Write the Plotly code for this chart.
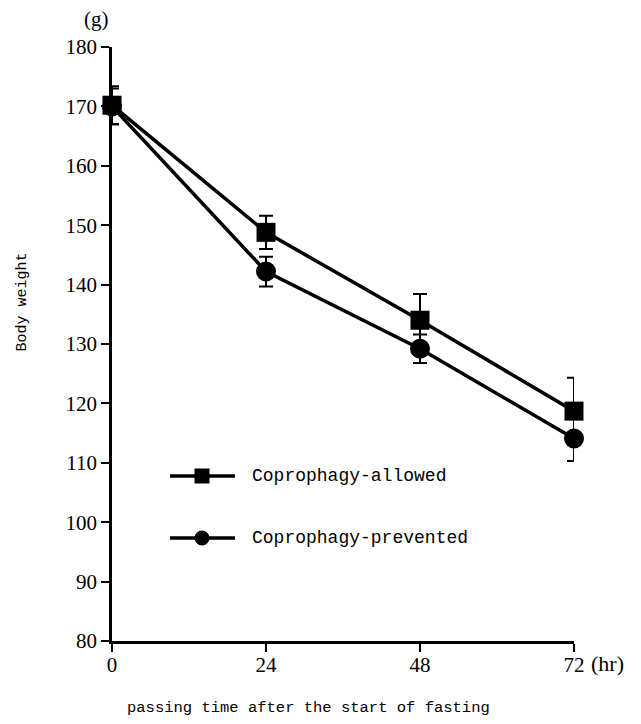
import plotly.graph_objects as go

hours = [0, 24, 48, 72]
allowed_mean = [170.2, 148.8, 134.0, 118.7]
allowed_err = [3.2, 2.8, 4.4, 5.6]
prevented_mean = [170.0, 142.2, 129.2, 114.1]
prevented_err = [3.0, 2.5, 2.4, 3.8]
x_ticks = [0, 24, 48, 72]
y_ticks = [80, 90, 100, 110, 120, 130, 140, 150, 160, 170, 180]

serif = "Liberation Serif"
mono = "Liberation Mono"

fig = go.Figure()
fig.add_trace(go.Scatter(
    x=hours, y=prevented_mean, mode="lines+markers", name="Coprophagy-prevented",
    line=dict(color="black", width=3.5),
    marker=dict(symbol="circle", size=20, color="black"),
    error_y=dict(type="data", array=prevented_err, color="black", thickness=2, width=7),
    cliponaxis=False, showlegend=False))
fig.add_trace(go.Scatter(
    x=hours, y=allowed_mean, mode="lines+markers", name="Coprophagy-allowed",
    line=dict(color="black", width=3.5),
    marker=dict(symbol="square", size=19, color="black"),
    error_y=dict(type="data", array=allowed_err, color="black", thickness=2, width=7),
    cliponaxis=False, showlegend=False))

# manual legend (paper coordinates)
legend_items = [("Coprophagy-allowed", "rect", 0.2778), ("Coprophagy-prevented", "circle", 0.1734)]
shapes = []
annotations = []
for label, kind, yp in legend_items:
    shapes.append(dict(type="line", xref="paper", yref="paper", x0=0.1255, x1=0.2662,
                       y0=yp, y1=yp, line=dict(color="black", width=3.5)))
    shapes.append(dict(type=kind, xref="paper", yref="paper", xsizemode="pixel", ysizemode="pixel",
                       xanchor=0.1948, yanchor=yp, x0=-7.5, x1=7.5, y0=-7.5, y1=7.5,
                       fillcolor="black", line=dict(color="black", width=0)))
    annotations.append(dict(x=0.2987, y=yp, xref="paper", yref="paper", text=label,
                            showarrow=False, xanchor="left", yanchor="middle",
                            font=dict(family=mono, size=18, color="black")))

annotations += [
    dict(x=-0.034, y=1.0, xref="paper", yref="paper", text="(g)", showarrow=False,
         xanchor="center", yanchor="middle", yshift=28, font=dict(family=serif, size=21, color="black")),
    dict(x=1.0, y=0, xref="paper", yref="paper", text="(hr)", showarrow=False,
         xanchor="left", yanchor="middle", xshift=15, yshift=-22, font=dict(family=serif, size=22, color="black")),
    dict(x=0.425, y=0, xref="paper", yref="paper", text="passing time after the start of fasting",
         showarrow=False, xanchor="center", yanchor="middle", yshift=-67,
         font=dict(family=mono, size=15.5, color="black")),
    dict(x=0, y=0.57, xref="paper", yref="paper", text="Body weight", showarrow=False,
         xanchor="center", yanchor="middle", xshift=-90, textangle=-90,
         font=dict(family=mono, size=15, color="black")),
]

# page body has an 8px default margin, so the figure is offset by 8px
fig.update_layout(
    width=625, height=708,
    margin=dict(l=104, r=59, t=39, b=75),
    plot_bgcolor="white", paper_bgcolor="white",
    shapes=shapes, annotations=annotations,
    xaxis=dict(range=[0, 72], tickmode="array", tickvals=x_ticks, showgrid=False, zeroline=False,
               showline=True, linecolor="black", linewidth=2.5, ticks="outside", ticklen=8,
               ticklabelstandoff=-5,
               tickwidth=2, tickcolor="black", tickfont=dict(family=serif, size=21, color="black")),
    yaxis=dict(range=[80, 180], tickmode="array", tickvals=y_ticks, showgrid=False, zeroline=False,
               showline=True, linecolor="black", linewidth=2.5, ticks="outside", ticklen=8,
               tickwidth=2, tickcolor="black", tickfont=dict(family=serif, size=21, color="black")),
)

fig.write_html("out.html")
